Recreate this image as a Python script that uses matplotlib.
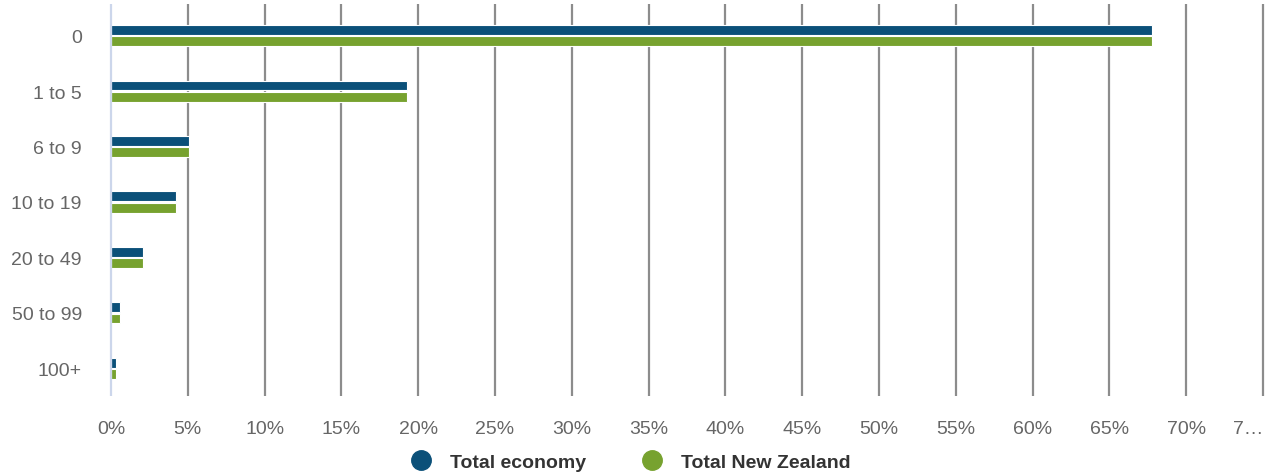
import matplotlib
matplotlib.use("Agg")
import matplotlib.pyplot as plt
from matplotlib.lines import Line2D
import numpy as np

plt.rcParams['font.family'] = ['Liberation Sans', 'DejaVu Sans']

categories = ["0", "1 to 5", "6 to 9", "10 to 19", "20 to 49", "50 to 99", "100+"]
total_economy = [67.8, 19.3, 5.1, 4.2, 2.1, 0.6, 0.3]
total_nz = [67.8, 19.3, 5.1, 4.2, 2.1, 0.6, 0.3]
series_names = ["Total economy", "Total New Zealand"]
x_ticks = list(range(0, 80, 5))
x_tick_labels = [f"{t}%" for t in x_ticks[:-1]] + ["7…"]

blue = "#0b5079"
green = "#77a22f"

fig = plt.figure(figsize=(12.66, 4.77), dpi=100)
top_px, bottom_px = 9, 397
ax = fig.add_axes([111 / 1266, 1 - bottom_px / 477, (1263 - 111) / 1266, (bottom_px - top_px) / 477])

y = np.arange(len(categories))
h = 0.18
ax.barh(y - h / 2 - 0.012, total_economy, height=h, color=blue, edgecolor="white", linewidth=0.8, zorder=3)
ax.barh(y + h / 2 + 0.012, total_nz, height=h, color=green, edgecolor="white", linewidth=0.8, zorder=3)

ax.set_xlim(0, 75)
ax.set_ylim(len(categories) - 0.5, -0.5)
ax.set_yticks(y)
ax.set_yticklabels(categories)
ax.set_xticks(x_ticks)
ax.set_xticklabels(x_tick_labels)

# vertical grid, running a few pixels above the plot area
grid_top = 1 + 4 / (bottom_px - top_px)
ax.vlines(x_ticks[1:], 0, grid_top, transform=ax.get_xaxis_transform(),
          color="#8c8c8c", linewidth=1.6, zorder=1, clip_on=False)
ax.vlines([0], 0, grid_top, transform=ax.get_xaxis_transform(),
          color="#ccd6eb", linewidth=1.6, zorder=4, clip_on=False)

for s in ax.spines.values():
    s.set_visible(False)
ax.tick_params(axis="both", length=0, labelsize=14, labelcolor="#666666")
ax.tick_params(axis="x", pad=17)
ax.tick_params(axis="y", pad=21)
ax.get_xticklabels()[-1].set_horizontalalignment("right")

handles = [Line2D([], [], marker="o", linestyle="", markersize=14, color=c) for c in (blue, green)]
leg = fig.legend(handles, series_names, loc="center", bbox_to_anchor=(626 / 1266, 1 - 463 / 477),
                 ncol=2, frameon=False, handletextpad=0.5, columnspacing=2.4,
                 prop={"weight": "bold", "size": 14})
for t in leg.get_texts():
    t.set_color("#333333")

fig.savefig("out.png", dpi=100)
